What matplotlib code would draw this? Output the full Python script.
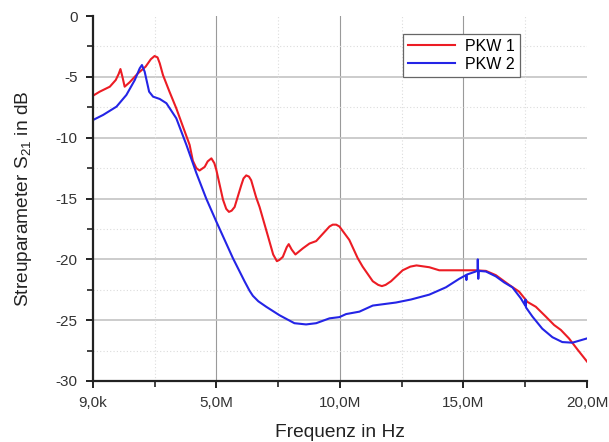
import matplotlib
matplotlib.use("Agg")
import matplotlib.pyplot as plt
from matplotlib.ticker import FixedLocator

plt.rcParams['font.family'] = ['Liberation Sans', 'DejaVu Sans']
plt.rcParams['mathtext.fontset'] = 'custom'
plt.rcParams['mathtext.rm'] = 'Liberation Sans'

# Frequency in MHz, S21 in dB
pkw1_f = [0.009, 0.28, 0.69, 0.93, 1.05, 1.12, 1.20, 1.29, 1.49, 1.83, 2.14, 2.35, 2.50, 2.62, 2.71, 2.84,
          3.10, 3.38, 3.65, 3.92, 4.05, 4.19, 4.32, 4.53, 4.65, 4.80, 4.92, 5.0, 5.27, 5.40, 5.51, 5.62,
          5.74, 6.01, 6.10, 6.21, 6.32, 6.41, 6.61, 6.75, 7.09, 7.30, 7.45, 7.55, 7.69, 7.85, 7.93, 8.05,
          8.20, 8.50, 8.77, 9.04, 9.40, 9.58, 9.71, 9.85, 9.98, 10.38, 10.72, 10.92, 11.33, 11.55, 11.70,
          11.85, 12.07, 12.54, 12.85, 13.10, 13.62, 14.02, 14.96, 15.50, 15.91, 16.31, 16.85, 17.25,
          17.59, 17.93, 18.33, 18.67, 18.94, 19.27, 19.61, 20.0]
pkw1_db = [-6.55, -6.22, -5.81, -5.26, -4.75, -4.36, -5.0, -5.81, -5.45, -4.71, -4.16, -3.55, -3.29, -3.40, -3.89, -4.85,
           -6.2, -7.59, -9.1, -10.6, -11.9, -12.5, -12.7, -12.4, -11.95, -11.7, -12.1, -12.65, -15.1, -15.85, -16.1, -16.0,
           -15.7, -13.9, -13.35, -13.1, -13.2, -13.5, -14.9, -15.7, -18.1, -19.6, -20.15, -20.05, -19.8, -19.0, -18.75, -19.2,
           -19.6, -19.1, -18.7, -18.5, -17.7, -17.3, -17.15, -17.15, -17.3, -18.4, -19.9, -20.6, -21.8, -22.1, -22.2,
           -22.1, -21.8, -20.9, -20.6, -20.5, -20.65, -20.9, -20.9, -20.9, -20.95, -21.3, -22.1, -22.65,
           -23.5, -23.9, -24.7, -25.4, -25.8, -26.5, -27.4, -28.4]

pkw2_f = [0.009, 0.42, 0.96, 1.36, 1.70, 1.90, 1.99, 2.10, 2.28, 2.44, 2.71, 2.98,
          3.38, 3.79, 4.19, 4.59, 5.0, 5.67, 6.14, 6.35, 6.48, 6.70, 7.02, 7.56, 8.16, 8.63, 9.04,
          9.58, 9.98, 10.25, 10.79, 11.33, 12.27, 12.88, 13.62, 14.29, 14.83, 15.10,
          15.12, 15.14, 15.50, 15.57, 15.58, 15.60, 15.62, 15.91, 16.31, 16.65, 16.98,
          17.32, 17.50, 17.51, 17.53, 17.79, 18.19, 18.60, 19.00, 19.41, 20.0]
pkw2_db = [-8.55, -8.13, -7.45, -6.49, -5.26, -4.30, -4.03, -4.58, -6.22, -6.63, -6.82, -7.17,
           -8.41, -10.6, -12.9, -15.0, -16.9, -19.9, -21.8, -22.6, -23.0, -23.45, -23.9, -24.6, -25.25, -25.35, -25.25,
           -24.85, -24.75, -24.5, -24.3, -23.8, -23.55, -23.3, -22.9, -22.3, -21.6, -21.3,
           -21.7, -21.25, -21.0, -20.9, -20.0, -21.6, -20.95, -21.0, -21.4, -21.9, -22.3,
           -23.2, -23.8, -23.3, -23.95, -24.7, -25.7, -26.4, -26.8, -26.85, -26.5]

xticks = [0.009, 5, 10, 15, 20]
xticklabels = ['9,0k', '5,0M', '10,0M', '15,0M', '20,0M']
yticks = [0, -5, -10, -15, -20, -25, -30]

fig = plt.figure(figsize=(6.09, 4.42), dpi=100)
ax = fig.add_axes([93/609, 61/442, 494/609, 365/442])

ax.plot(pkw1_f, pkw1_db, color='#ec1c24', lw=1.5, label='PKW 1')
ax.plot(pkw2_f, pkw2_db, color='#2424e6', lw=1.5, label='PKW 2')

ax.set_xlim(0.009, 20)
ax.set_ylim(-30, 0)
ax.set_xticks(xticks)
ax.set_xticklabels(xticklabels)
ax.set_yticks(yticks)
ax.set_yticklabels([str(v) for v in yticks])
ax.xaxis.set_minor_locator(FixedLocator([2.5, 7.5, 12.5, 17.5]))
ax.yaxis.set_minor_locator(FixedLocator([-2.5, -7.5, -12.5, -17.5, -22.5, -27.5]))

# grids
for x in [5, 10, 15]:
    ax.axvline(x, color='#9a9a9a', lw=0.8, zorder=0)
for y in [-5, -10, -15, -20, -25]:
    ax.axhline(y, color='#c4c4c4', lw=1.2, zorder=0)
for x in [2.5, 7.5, 12.5, 17.5]:
    ax.axvline(x, color='#dcdcdc', lw=0.8, ls=(0, (1, 2)), zorder=0)
for y in [-2.5, -7.5, -12.5, -17.5, -22.5, -27.5]:
    ax.axhline(y, color='#dcdcdc', lw=0.8, ls=(0, (1, 2)), zorder=0)

for s in ['top', 'right']:
    ax.spines[s].set_visible(False)
for s in ['left', 'bottom']:
    ax.spines[s].set_linewidth(1.6)
    ax.spines[s].set_color('#222222')

ax.tick_params(which='major', direction='out', length=5, width=1.4, labelsize=11, colors='#222222', pad=6)
ax.tick_params(which='minor', direction='out', length=4, width=1.2, colors='#222222')
for lbl in ax.get_xticklabels() + ax.get_yticklabels():
    lbl.set_color('#333333')

ax.set_xlabel('Frequenz in Hz', fontsize=13.8, color='#222222', labelpad=10)
ax.set_ylabel('Streuparameter S$_{\\mathregular{21}}$ in dB', fontsize=13.8, color='#222222', labelpad=16)

leg = ax.legend(loc='upper left', bbox_to_anchor=(0.627, 0.951), borderaxespad=0,
                fancybox=False, framealpha=1, edgecolor='#666666', fontsize=11.5,
                handlelength=3.0, handletextpad=0.6, borderpad=0.3, labelspacing=0.2)
leg.get_frame().set_linewidth(0.9)

fig.savefig('out.png', dpi=100)
